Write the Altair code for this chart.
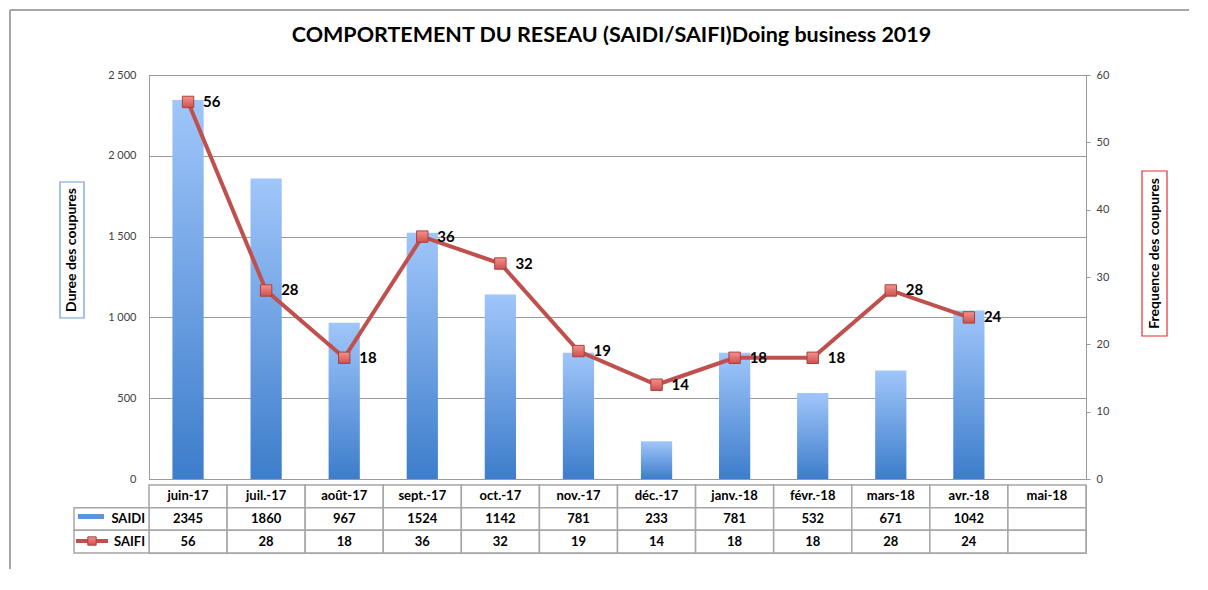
import altair as alt
import pandas as pd

months = ["juin-17", "juil.-17", "août-17", "sept.-17", "oct.-17", "nov.-17",
          "déc.-17", "janv.-18", "févr.-18", "mars-18", "avr.-18", "mai-18"]
saidi = [2345, 1860, 967, 1524, 1142, 781, 233, 781, 532, 671, 1042, None]
saifi = [56, 28, 18, 36, 32, 19, 14, 18, 18, 28, 24, None]
left_ticks = [0, 500, 1000, 1500, 2000, 2500]
right_ticks = [0, 10, 20, 30, 40, 50, 60]
title_text = "COMPORTEMENT DU RESEAU (SAIDI/SAIFI)Doing business 2019"
left_title = "Duree des coupures"
right_title = "Frequence des coupures"
row_names = ["mois", "SAIDI", "SAIFI"]

FONT = "Lato"
W, H = 937, 404

df = pd.DataFrame({"mois": months, "SAIDI": saidi, "SAIFI": saifi})

xscale = alt.Scale(domain=months, paddingInner=0.6, paddingOuter=0.3)
xenc = alt.X("mois:N", scale=xscale, axis=None, sort=months)

bar_grad = alt.Gradient(
    gradient="linear",
    stops=[alt.GradientStop(color="#A0C6FA", offset=0),
           alt.GradientStop(color="#3D7DCB", offset=1)],
    x1=0, x2=0, y1=0, y2=1)

bars = alt.Chart(df).transform_filter("isValid(datum.SAIDI)").mark_bar(fill=bar_grad).encode(
    x=xenc,
    y=alt.Y("SAIDI:Q", scale=alt.Scale(domain=[0, 2500], nice=False),
            axis=alt.Axis(values=left_ticks, title=None, ticks=False, labelPadding=13,
                          grid=True, gridColor="#9A9A9A", domainColor="#9A9A9A",
                          labelFontSize=11, labelColor="#404040", labelFont=FONT,
                          labelExpr="replace(format(datum.value, ','), ',', ' ')")),
)

yR = alt.Scale(domain=[0, 60], nice=False)
line = alt.Chart(df).transform_filter("isValid(datum.SAIFI)").mark_line(
    color="#C0504D", strokeWidth=4).encode(
    x=xenc,
    y=alt.Y("SAIFI:Q", scale=yR,
            axis=alt.Axis(values=right_ticks, title=None, orient="right", grid=False,
                          tickSize=4, tickColor="#9A9A9A", domainColor="#9A9A9A",
                          labelPadding=6, labelFontSize=11, labelColor="#404040",
                          labelFont=FONT)),
)
pt_grad = alt.Gradient(
    gradient="linear",
    stops=[alt.GradientStop(color="#F29390", offset=0),
           alt.GradientStop(color="#D0504C", offset=1)],
    x1=0, x2=0, y1=0, y2=1)
points = alt.Chart(df).transform_filter("isValid(datum.SAIFI)").mark_point(
    shape="square", filled=True, fill=pt_grad, stroke="#A8403D", strokeWidth=1,
    size=130, opacity=1).encode(x=xenc, y=alt.Y("SAIFI:Q", scale=yR))
labels = alt.Chart(df).transform_filter("isValid(datum.SAIFI)").mark_text(
    align="left", baseline="middle", dx=15, fontSize=15, fontWeight="bold",
    font=FONT, color="#000000").encode(
    x=xenc, y=alt.Y("SAIFI:Q", scale=yR), text="SAIFI:Q")

saifi_layer = alt.layer(line, points, labels)

one = pd.DataFrame({"k": [0]})
lbox = alt.Chart(one).mark_rect(fill="white", stroke="#6E9BD6", strokeWidth=1.2).encode(
    x=alt.value(-89), x2=alt.value(-65), y=alt.value(107), y2=alt.value(243))
ltext = alt.Chart(one).mark_text(angle=270, fontSize=14, fontWeight="bold", font=FONT,
                                 color="#000000", align="center", baseline="middle").encode(
    x=alt.value(-77), y=alt.value(175), text=alt.value(left_title))
rbox = alt.Chart(one).mark_rect(fill="white", stroke="#E03030", strokeWidth=1.2).encode(
    x=alt.value(993), x2=alt.value(1018), y=alt.value(96), y2=alt.value(261))
rtext = alt.Chart(one).mark_text(angle=270, fontSize=14, fontWeight="bold", font=FONT,
                                 color="#000000", align="center", baseline="middle").encode(
    x=alt.value(1005.5), y=alt.value(178.5), text=alt.value(right_title))
title = alt.Chart(one).mark_text(fontSize=21.5, fontWeight="bold", font=FONT,
                                 color="#000000", align="center", baseline="middle").encode(
    x=alt.value(462.5), y=alt.value(-39), text=alt.value(title_text))

# outer chart frame (top and left edges)
frame_top = alt.Chart(one).mark_rule(color="#A6A6A6", strokeWidth=2).encode(
    x=alt.value(-139), x2=alt.value(1040), y=alt.value(-65))
frame_left = alt.Chart(one).mark_rule(color="#A6A6A6", strokeWidth=2).encode(
    x=alt.value(-139), y=alt.value(-65), y2=alt.value(494))

top = alt.layer(bars, saifi_layer, lbox, ltext, rbox, rtext, title, frame_top, frame_left
                ).resolve_scale(y="independent").properties(width=W, height=H)

# ---- data table ----
rows = []
for i, m in enumerate(months):
    rows.append({"mois": m, "row": "mois", "txt": m})
    rows.append({"mois": m, "row": "SAIDI", "txt": "" if saidi[i] is None else str(saidi[i])})
    rows.append({"mois": m, "row": "SAIFI", "txt": "" if saifi[i] is None else str(saifi[i])})
tdf = pd.DataFrame(rows)

tx = alt.X("mois:N", scale=alt.Scale(domain=months, paddingInner=0, paddingOuter=0),
           axis=None, sort=months)
ty = alt.Y("row:N", scale=alt.Scale(domain=row_names, paddingInner=0, paddingOuter=0),
           axis=None, sort=row_names)

cells = alt.Chart(tdf).mark_rect(fill="white", stroke="#A6A6A6", strokeWidth=1.5).encode(
    x=tx, y=ty)
ctext = alt.Chart(tdf).mark_text(fontSize=13, fontWeight="bold", font=FONT,
                                 color="#000000", baseline="middle").encode(
    x=tx, y=ty, text="txt:N")

ldf = pd.DataFrame({"row": ["SAIDI", "SAIFI"]})
lcells = alt.Chart(ldf).mark_rect(fill="white", stroke="#A6A6A6", strokeWidth=1.5).encode(
    x=alt.value(-75), x2=alt.value(0), y=ty)
ltxt = alt.Chart(ldf).mark_text(fontSize=13, fontWeight="bold", font=FONT, color="#000000",
                                align="right", baseline="middle").encode(
    x=alt.value(-4), y=ty, text="row:N")
leg_bar = alt.Chart(one).mark_rect(fill="#5B93DC").encode(
    x=alt.value(-71), x2=alt.value(-45), y=alt.value(29), y2=alt.value(34))
leg_line = alt.Chart(one).mark_rule(color="#C0504D", strokeWidth=4).encode(
    x=alt.value(-73), x2=alt.value(-41), y=alt.value(56))
leg_pt = alt.Chart(one).mark_point(shape="square", filled=True, fill=pt_grad,
                                   stroke="#A8403D", strokeWidth=1, size=70, opacity=1).encode(
    x=alt.value(-57), y=alt.value(56))

table = alt.layer(cells, ctext, lcells, ltxt, leg_bar, leg_line, leg_pt).properties(
    width=W, height=68)

chart = alt.vconcat(top, table, spacing=6, bounds="flush").properties(
    padding={"left": 0, "top": 0, "right": 0, "bottom": 0},
).configure_view(stroke="#9A9A9A")

chart.save("out.html", embed_options={"renderer": "svg", "actions": False})
